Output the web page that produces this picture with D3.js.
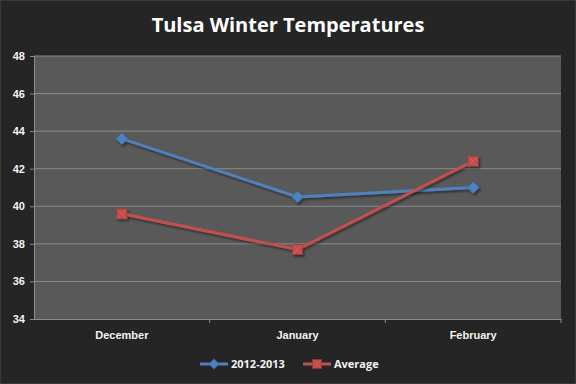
<!DOCTYPE html>
<html>
<head>
<meta charset="utf-8">
<script src="https://cdn.jsdelivr.net/npm/d3@7"></script>
<style>
  body { margin: 0; background: #252525; }
  svg { display: block; font-family: "Open Sans", "Noto Sans", sans-serif; }
</style>
</head>
<body>
<svg id="chart" width="576" height="384"></svg>
<script>
// Tulsa winter temperatures, monthly means
const months = ["December", "January", "February"];
const season = [43.6, 40.5, 41.0];
const average = [39.6, 37.7, 42.4];
const yTicks = [34, 36, 38, 40, 42, 44, 46, 48];

const svg = d3.select("#chart");
const W = 576, H = 384;
const m = { top: 56, right: 15, bottom: 65, left: 34 };

svg.append("rect").attr("x", 0.5).attr("y", 0.5).attr("width", W - 1).attr("height", H - 1)
  .attr("fill", "#252525").attr("stroke", "#3a3a3a");

const defs = svg.append("defs");
const f = defs.append("filter").attr("id", "sh").attr("x", "-20%").attr("y", "-20%")
  .attr("width", "140%").attr("height", "140%");
f.append("feDropShadow").attr("dx", 1.5).attr("dy", 2).attr("stdDeviation", 1.2)
  .attr("flood-color", "#000").attr("flood-opacity", 0.45);

const x = d3.scaleBand().domain(months).range([m.left, W - m.right]);
const y = d3.scaleLinear().domain([34, 48]).range([H - m.bottom, m.top]);

svg.append("rect").attr("x", m.left).attr("y", m.top)
  .attr("width", W - m.right - m.left).attr("height", H - m.bottom - m.top)
  .attr("fill", "#595959");

// gridlines
svg.append("g").selectAll("line").data(yTicks.slice(1)).join("line")
  .attr("x1", m.left).attr("x2", W - m.right)
  .attr("y1", d => y(d)).attr("y2", d => y(d))
  .attr("stroke", "#8c8c8c").attr("stroke-width", 1);

// y axis
const ya = svg.append("g").attr("transform", `translate(${m.left},0)`)
  .call(d3.axisLeft(y).tickValues(yTicks).tickSize(4).tickPadding(5));
ya.select(".domain").attr("stroke", "#8c8c8c");
ya.selectAll(".tick line").attr("stroke", "#8c8c8c");
ya.selectAll("text").attr("fill", "#f2f2f2").attr("font-size", 11).attr("font-weight", "bold");

// x axis
const xa = svg.append("g").attr("transform", `translate(0,${H - m.bottom})`)
  .call(d3.axisBottom(x).tickSize(0).tickPadding(12));
xa.select(".domain").attr("stroke", "#8c8c8c");
xa.selectAll(".tick line").remove();
xa.selectAll("text").attr("fill", "#f2f2f2").attr("font-size", 11).attr("font-weight", "bold");
xa.selectAll(".sep").data(months).join("line").attr("class", "sep")
  .attr("x1", d => x(d) + x.bandwidth()).attr("x2", d => x(d) + x.bandwidth())
  .attr("y1", 0).attr("y2", 4).attr("stroke", "#8c8c8c");

const cx = d => x(d) + x.bandwidth() / 2;
const line = d3.line().x((d, i) => cx(months[i])).y(d => y(d));

const series = [
  { name: "2012-2013", values: season, color: "#4f81bd", shape: "diamond" },
  { name: "Average", values: average, color: "#c0504d", shape: "square" }
];

function marker(g, shape, color) {
  if (shape === "diamond") {
    g.append("path").attr("d", "M0,-6L6,0L0,6L-6,0Z").attr("fill", color)
      .attr("stroke", d3.color(color).darker(0.6));
  } else {
    g.append("rect").attr("x", -5).attr("y", -5).attr("width", 10).attr("height", 10)
      .attr("fill", color).attr("stroke", d3.color(color).darker(0.6));
    g.append("path").attr("d", "M-5,-5L0,0L5,-5M-5,5L0,0L5,5")
      .attr("stroke", d3.color(color).brighter(0.4)).attr("stroke-width", 0.8).attr("fill", "none");
  }
}

series.forEach(s => {
  const g = svg.append("g").attr("filter", "url(#sh)");
  g.append("path").datum(s.values).attr("d", line)
    .attr("fill", "none").attr("stroke", s.color).attr("stroke-width", 3);
  s.values.forEach((v, i) => {
    const mg = g.append("g").attr("transform", `translate(${cx(months[i])},${y(v)})`);
    marker(mg, s.shape, s.color);
  });
});

// title
svg.append("text").attr("x", W / 2).attr("y", 32).attr("text-anchor", "middle")
  .attr("fill", "#fff").attr("font-size", 20).attr("font-weight", "bold")
  .text("Tulsa Winter Temperatures");

// legend
const leg = svg.append("g").attr("transform", "translate(0,364)");
const legX = [200, 303];
series.forEach((s, i) => {
  const lg = leg.append("g").attr("transform", `translate(${legX[i]},0)`);
  lg.append("line").attr("x1", 0).attr("x2", 28).attr("stroke", s.color).attr("stroke-width", 3);
  const mg = lg.append("g").attr("transform", "translate(14,0) scale(0.85)");
  marker(mg, s.shape, s.color);
  lg.append("text").attr("x", 31).attr("y", 4).attr("fill", "#f2f2f2")
    .attr("font-size", 11).attr("font-weight", "bold").text(s.name);
});
</script>
</body>
</html>
